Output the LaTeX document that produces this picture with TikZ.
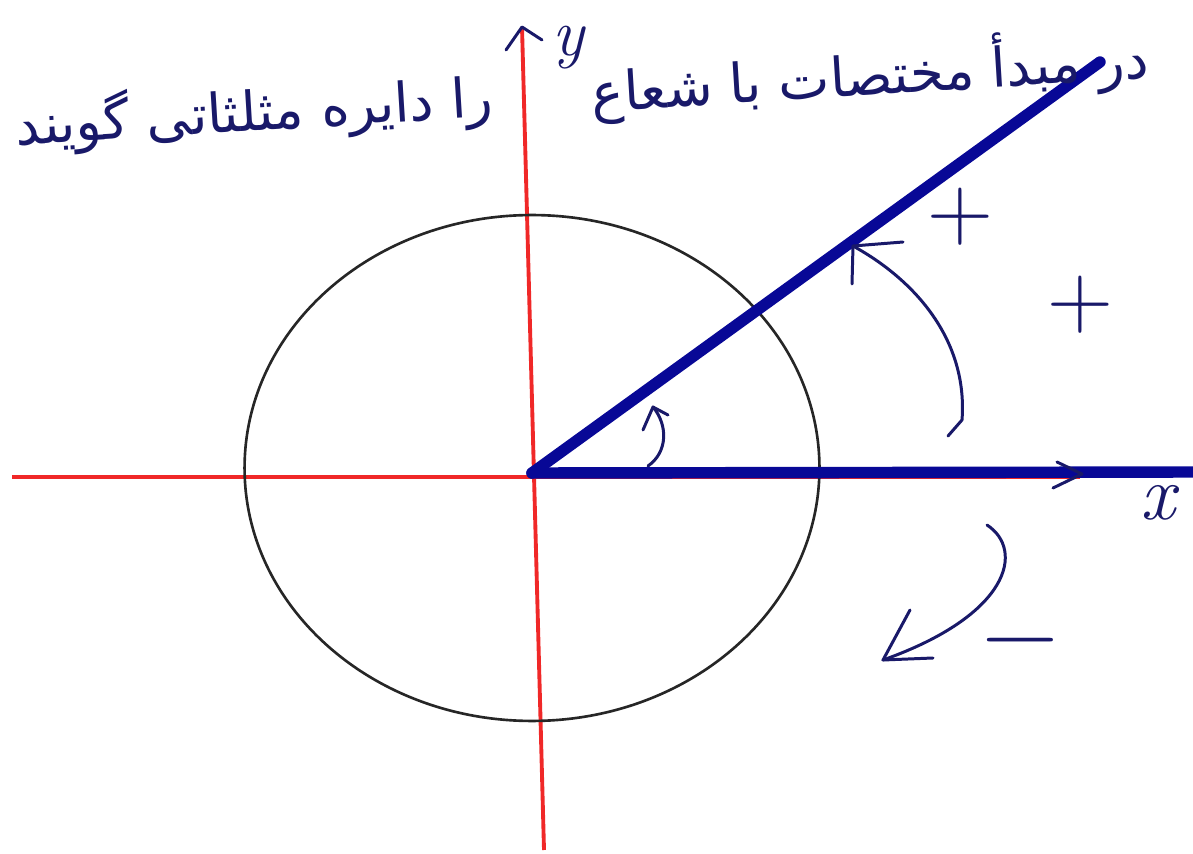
\documentclass[tikz,border=0pt]{standalone}
\usepackage{fontspec}
\newfontfamily\arabicfont[Script=Arabic]{DejaVu Sans}
\TeXXeTstate=1
\usetikzlibrary{arrows.meta}
\definecolor{pen}{RGB}{25,25,105}
\definecolor{ray}{RGB}{8,8,150}
\definecolor{axis}{RGB}{240,40,40}
\begin{document}
\begin{tikzpicture}[x=0.02cm,y=-0.02cm,
    axisline/.style={draw=axis,line width=2.2pt},
    rayline/.style={draw=ray,line width=6.5pt,line cap=round},
    penline/.style={draw=pen,line width=1.7pt,line cap=round,line join=round},
    penlabel/.style={text=pen,inner sep=0pt}]
    \useasboundingbox (0,0) rectangle (1193,854);
    \clip (0,0) rectangle (1193,854);
    % Points de la figure
    \coordinate (O) at (532,473);
    \coordinate (C) at (532,468);
    \coordinate (xl) at (12,477);
    \coordinate (xr) at (1080,477);
    \coordinate (yt) at (522,27);
    \coordinate (yb) at (544,850);
    \coordinate (xe) at (1200,472);
    \coordinate (P) at (1100,62);
    % Axes rouges
    \draw[axisline] (xl) -- (xr);
    \draw[axisline] (yb) -- (yt);
    % Cercle
    \draw[black!85,line width=1.5pt] (C) ellipse [x radius=5.75cm, y radius=5.06cm];
    % Demi-droites en bleu
    \draw[rayline] (O) -- (xe);
    \draw[rayline] (O) -- (P);
    % Pointes des axes
    \draw[penline] (506,50) -- (yt) -- (542,40);
    \draw[penline] (1057,462) -- (1082,474) -- (1053,488);
    % Petit arc
    \coordinate (a1) at (648,466);
    \coordinate (a2) at (653,407);
    \draw[penline] (a1) .. controls (668,452) and (668,425) .. (a2);
    \draw[penline] (643,430) -- (a2) -- (668,415);
    % Grand arc vers la demi-droite
    \coordinate (b0) at (948,436);
    \coordinate (b1) at (962,420);
    \coordinate (b2) at (853,246);
    \draw[penline] (b0) -- (b1) .. controls (968,340) and (915,280) .. (b2);
    \draw[penline] (852,284) -- (b2) -- (903,242);
    % Fleche du sens negatif
    \coordinate (c1) at (987,525);
    \coordinate (c2) at (883,660);
    \draw[penline] (c1) .. controls (1025,550) and (1010,615) .. (c2);
    \draw[penline] (910,610) -- (c2) -- (933,658);
    % Signes et noms des axes
    \node[penlabel] (plusA) at (960,217) {\fontsize{52}{52}\selectfont +};
    \node[penlabel] (plusB) at (1080,305) {\fontsize{52}{52}\selectfont +};
    \node[penlabel] (minus) at (1020,652) {\fontsize{60}{60}\selectfont −};
    \node[penlabel] (xlab) at (1158,503) {\fontsize{44}{44}\selectfont\itshape x};
    \node[penlabel] (ylab) at (568,48) {\fontsize{38}{38}\selectfont\itshape y};
    % Texte
    \node[penlabel,rotate=3.5,anchor=base east] (titleR) at (1150,78)
        {\fontsize{31}{37}\arabicfont\beginR در مبدأ مختصات با شعاع\endR};
    \node[penlabel,rotate=3.5,anchor=base east] (titleL) at (494,116)
        {\fontsize{31}{37}\arabicfont\beginR را دایره مثلثاتی گویند\endR};
\end{tikzpicture}
\end{document}
